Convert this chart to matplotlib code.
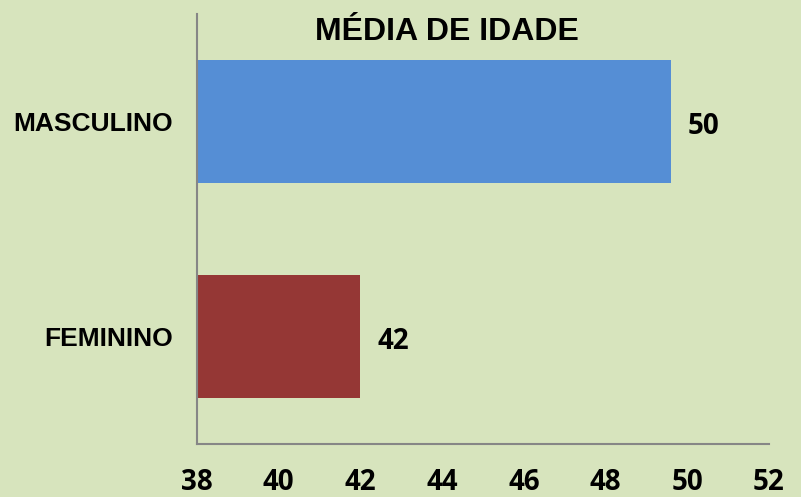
import matplotlib
matplotlib.use("Agg")
import matplotlib.pyplot as plt

categories = ["FEMININO", "MASCULINO"]
ages = [42.0, 49.6]
bar_colors = ["#953735", "#558ED5"]
x_ticks = [38, 40, 42, 44, 46, 48, 50, 52]

BG = "#D7E4BD"
AXIS_GRAY = "#868686"
NUM_FONT = "Open Sans"

fig = plt.figure(figsize=(8.01, 4.97), dpi=100, facecolor=BG)
ax = fig.add_axes([0.2459, 0.1066, 0.7141, 0.8652])
ax.set_facecolor(BG)

y = list(range(len(categories)))
ax.barh(y, [a - x_ticks[0] for a in ages], left=x_ticks[0],
        height=0.57, color=bar_colors)

for yi, val in zip(y, ages):
    ax.annotate(f"{val:.0f}", xy=(val, yi), xytext=(12, -3.5),
                textcoords="offset points", va="center", ha="left",
                fontsize=20, fontweight="bold", family=NUM_FONT)

ax.set_xlim(x_ticks[0], x_ticks[-1])
ax.set_ylim(-0.5, len(categories) - 0.5)
ax.set_xticks(x_ticks)
ax.set_xticklabels([str(t) for t in x_ticks], fontsize=20,
                   fontweight="bold", family=NUM_FONT)
ax.set_yticks(y)
ax.set_yticklabels(categories, fontsize=19, fontweight="bold",
                   family="Liberation Sans")
ax.tick_params(axis="x", length=0, pad=17)
ax.tick_params(axis="y", length=0, pad=17)

for side in ("top", "right"):
    ax.spines[side].set_visible(False)
for side in ("left", "bottom"):
    ax.spines[side].set_color(AXIS_GRAY)
    ax.spines[side].set_linewidth(1.5)

fig.text(447 / 801, 1 - 32 / 497, "MÉDIA DE IDADE", ha="center", va="center",
         fontsize=23, fontweight="bold", family="Liberation Sans")

fig.savefig("out.png", dpi=100, facecolor=BG)
